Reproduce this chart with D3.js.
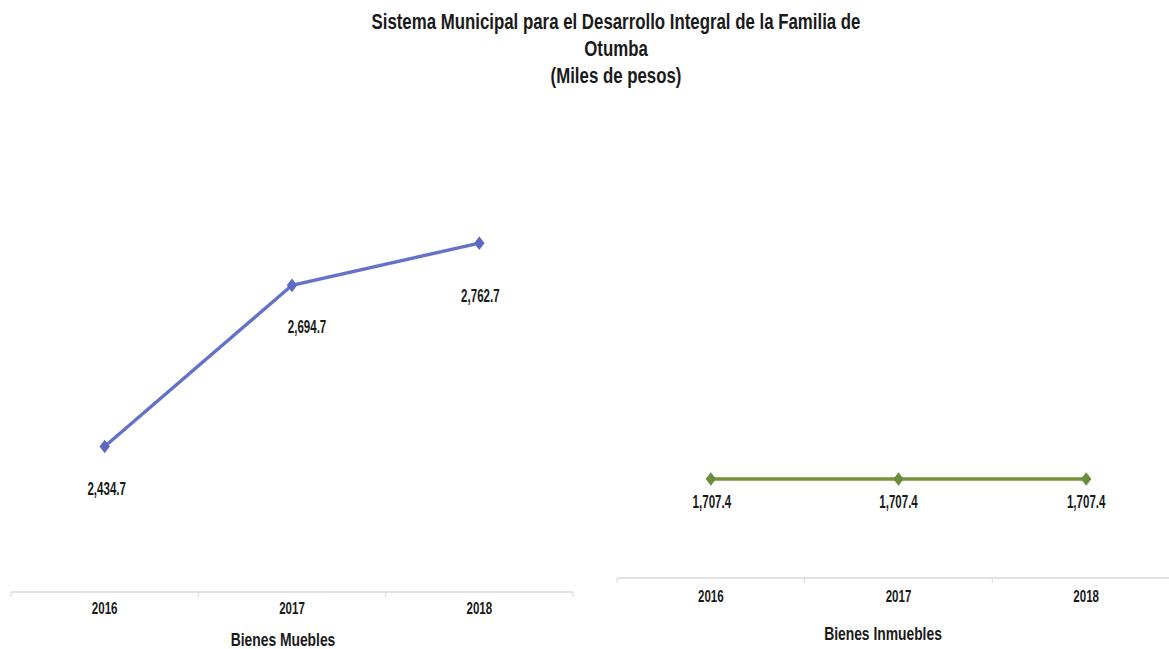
<!DOCTYPE html>
<html lang="es">
<head>
  <meta charset="UTF-8">
  <title>Sistema Municipal DIF Otumba</title>
  <script src="https://d3js.org/d3.v7.min.js"></script>
  <style>
    body { margin: 0; background: #fff; }
    text { font-family: "Liberation Sans", Arial, sans-serif; font-weight: bold; fill: #1a1a1a; }
  </style>
</head>
<body>
<div id="chart"></div>
<script>
  // data
  const years = ["2016", "2017", "2018"];
  const muebles = [2434.7, 2694.7, 2762.7];
  const inmuebles = [1707.4, 1707.4, 1707.4];
  const titleLines = ["Sistema Municipal para el Desarrollo Integral de la Familia de", "Otumba", "(Miles de pesos)"];

  const W = 1169, H = 649;
  const svg = d3.select("#chart").append("svg")
    .attr("width", W).attr("height", H);

  // narrow text: the original uses a condensed face, so squeeze horizontally
  function label(x, y, txt, size, sx) {
    return svg.append("text")
      .attr("transform", `translate(${x},${y}) scale(${sx},1)`)
      .attr("text-anchor", "middle")
      .style("font-size", size + "px")
      .text(txt);
  }

  titleLines.forEach((t, i) => label(616, 29 + i * 27, t, 22, 0.765));

  const fmt = d3.format(",.1f");

  function drawPanel(cfg) {
    const x = d3.scaleBand().domain(years).range([cfg.x0, cfg.x1]);
    const y = d3.scaleLinear().domain(cfg.domain).range([cfg.axisY, 220]);

    // axis line + ticks
    const g = svg.append("g").attr("transform", `translate(0,${cfg.axisY})`);
    g.append("line").attr("x1", cfg.x0).attr("x2", cfg.x1)
      .attr("stroke", "#d9d9d9").attr("stroke-width", 1.5);
    g.selectAll(".tk").data(years.concat(["end"])).enter().append("line")
      .attr("x1", (d, i) => cfg.x0 + i * x.bandwidth())
      .attr("x2", (d, i) => cfg.x0 + i * x.bandwidth())
      .attr("y1", 0).attr("y2", 5)
      .attr("stroke", "#d9d9d9");
    years.forEach(d => label(x(d) + x.bandwidth() / 2, cfg.axisY + cfg.yearDy, d, 16.5, 0.7));

    label(cfg.titleX, cfg.titleY, cfg.title, 18, 0.77);

    const cx = d => x(d) + x.bandwidth() / 2;
    const line = d3.line().x((d, i) => cx(years[i])).y(d => y(d));

    svg.append("path").datum(cfg.values)
      .attr("d", line)
      .attr("fill", "none")
      .attr("stroke", cfg.color)
      .attr("stroke-width", 3.4);

    const sq = d3.symbol().type(d3.symbolSquare).size(60);
    svg.selectAll(null).data(cfg.values).enter().append("path")
      .attr("d", sq)
      .attr("transform", (d, i) => `translate(${cx(years[i])},${y(d)}) scale(0.95,1.25) rotate(45)`)
      .attr("fill", cfg.marker);

    cfg.values.forEach((d, i) =>
      label(cx(years[i]) + cfg.labelDx[i], y(d) + cfg.labelDy[i], fmt(d), 17.5, 0.66));
  }

  drawPanel({
    values: muebles, x0: 11, x1: 573, axisY: 592, domain: [2200, 2800],
    color: "#6472c8", marker: "#5b69c2", yearDy: 22,
    labelDx: [2, 15, 1], labelDy: [49, 48, 59],
    title: "Bienes Muebles", titleX: 283, titleY: 646
  });
  drawPanel({
    values: inmuebles, x0: 617, x1: 1180, axisY: 578, domain: [1500, 2250],
    color: "#76923c", marker: "#6b8e3e", yearDy: 24,
    labelDx: [1, 0, 0], labelDy: [29, 29, 29],
    title: "Bienes Inmuebles", titleX: 883, titleY: 640
  });
</script>
</body>
</html>
